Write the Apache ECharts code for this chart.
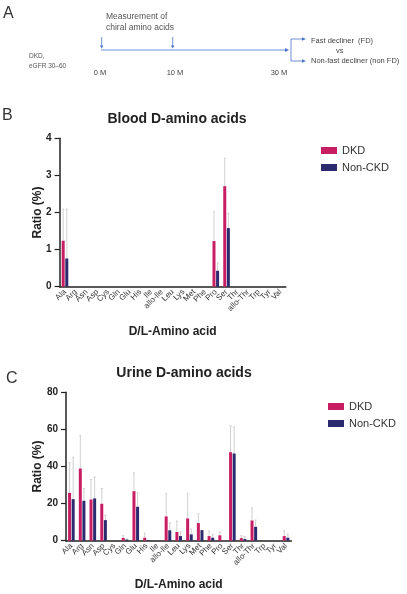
<!DOCTYPE html>
<html>
<head>
<meta charset="utf-8">
<script src="https://cdn.jsdelivr.net/npm/echarts@6/dist/echarts.min.js"></script>
<style>
html,body{margin:0;padding:0;background:#fff;}
#chart{width:407px;height:594px;}
</style>
</head>
<body>
<div id="chart"></div>
<script>
const categories = ['Ala','Arg','Asn','Asp','Cys','Gln','Glu','His','Ile','allo-Ile','Leu','Lys','Met','Phe','Pro','Ser','Thr','allo-Thr','Trp','Tyr','Val'];

const bloodDKD      = [1.24,0,0,0,0,0,0,0,0,0,0,0,0,0,1.23,2.71,0,0,0,0,0];
const bloodDKDUpper = [2.09,null,null,null,null,null,null,null,null,null,null,null,null,null,2.02,3.46,null,null,null,null,null];
const bloodNon      = [0.76,0,0,0,0,0,0,0,0,0,0,0,0,0,0.43,1.58,0,0,0,0,0];
const bloodNonUpper = [2.09,null,null,null,null,null,null,null,null,null,null,null,null,null,0.64,1.98,null,null,null,null,null];

const urineDKD      = [25.8,38.9,22.2,19.9,0,1.5,26.7,1.6,0,13.1,4.7,12.0,9.5,2.5,2.9,47.7,1.4,10.9,0,0,2.5];
const urineDKDUpper = [42.1,56.8,33.0,28.1,null,2.8,36.6,4.1,null,25.4,10.6,25.4,14.5,5.2,4.7,62.0,2.7,17.6,null,null,5.4];
const urineNon      = [22.4,21.5,22.8,11.1,0,0.6,18.3,0.4,0,5.6,2.5,3.4,5.7,1.6,0,47.0,0.9,7.5,0,0,1.6];
const urineNonUpper = [45.0,28.1,34.4,13.8,null,1.0,25.8,null,null,9.7,4.8,6.3,null,3.4,null,61.3,2.2,11.1,null,null,3.6];

const bloodTicks = [0,1,2,3,4];
const urineTicks = [0,20,40,60,80];

const C_DKD = '#c91d63';
const C_NON = '#2b2a6e';
const AXIS = '#222';
const BAR_W = 3;
const OFF = 1.8;

function errData(vals, ups){
  const out = [];
  vals.forEach((v,i)=>{ if(ups[i]!=null) out.push([i, v, ups[i]]); });
  return out;
}
function errRender(offset){
  return function(params, api){
    const i = api.value(0);
    const p0 = api.coord([i, api.value(1)]);
    const p1 = api.coord([i, api.value(2)]);
    const x = p0[0] + offset;
    const st = {stroke:'#c4c4c4', lineWidth:0.8};
    return {type:'group', children:[
      {type:'line', shape:{x1:x,y1:p0[1],x2:x,y2:p1[1]}, style:st},
      {type:'line', shape:{x1:x-1,y1:p1[1],x2:x+1,y2:p1[1]}, style:st}
    ]};
  };
}

function xAxisCfg(gridIndex, gap){
  return {
    type:'category', gridIndex, data:categories,
    boundaryGap:true,
    axisLine:{lineStyle:{color:AXIS,width:1.5}},
    axisTick:{alignWithLabel:true,length:3,lineStyle:{color:AXIS}},
    axisLabel:{rotate:45,fontSize:8,color:'#333',margin:4,interval:0,fontFamily:'Liberation Sans'},
    name:'D/L-Amino acid', nameLocation:'middle', nameGap:gap, nameMoveOverlap:false,
    nameTextStyle:{fontSize:12,fontWeight:'bold',color:'#222',fontFamily:'Liberation Sans'}
  };
}
function yAxisCfg(gridIndex, ticks, gap){
  return {
    type:'value', gridIndex, min:ticks[0], max:ticks[ticks.length-1], interval:ticks[1]-ticks[0],
    axisLine:{show:true,lineStyle:{color:AXIS,width:1.5}},
    axisTick:{show:true,length:5,lineStyle:{color:AXIS,width:1.2}},
    axisLabel:{fontSize:10,fontWeight:'bold',color:'#222',margin:8,fontFamily:'Liberation Sans'},
    splitLine:{show:false},
    name:'Ratio (%)', nameLocation:'middle', nameGap:gap, nameRotate:90, nameMoveOverlap:false,
    nameTextStyle:{fontSize:12,fontWeight:'bold',color:'#222',fontFamily:'Liberation Sans'}
  };
}

const blue = '#4a74c9';
const txt = '#444';
const graphics = [
  {type:'text', left:3, top:6, style:{text:'A', fontSize:16, fill:'#333', fontFamily:'Liberation Sans'}},
  {type:'text', x:106, y:17, style:{text:'Measurement of', fontSize:8.5, fill:'#555', verticalAlign:'middle', fontFamily:'Liberation Sans'}},
  {type:'text', x:106, y:28, style:{text:'chiral amino acids', fontSize:8.5, fill:'#555', verticalAlign:'middle', fontFamily:'Liberation Sans'}},
  {type:'text', x:29, y:56, style:{text:'DKD,', fontSize:6.5, fill:'#555', verticalAlign:'middle', fontFamily:'Liberation Sans'}},
  {type:'text', x:29, y:66, style:{text:'eGFR 30\u201360', fontSize:6.5, fill:'#555', verticalAlign:'middle', fontFamily:'Liberation Sans'}},
  {type:'line', shape:{x1:101,y1:50,x2:287,y2:50}, style:{stroke:blue,lineWidth:0.8}},
  {type:'polygon', shape:{points:[[289,50],[285,48],[285,52]]}, style:{fill:blue}},
  {type:'line', shape:{x1:101.7,y1:37,x2:101.7,y2:46}, style:{stroke:blue,lineWidth:0.8}},
  {type:'polygon', shape:{points:[[101.7,48.5],[100,45.5],[103.4,45.5]]}, style:{fill:blue}},
  {type:'line', shape:{x1:172.7,y1:37,x2:172.7,y2:46}, style:{stroke:blue,lineWidth:0.8}},
  {type:'polygon', shape:{points:[[172.7,48.5],[171,45.5],[174.4,45.5]]}, style:{fill:blue}},
  {type:'line', shape:{x1:291,y1:39,x2:291,y2:61}, style:{stroke:blue,lineWidth:0.8}},
  {type:'line', shape:{x1:291,y1:39,x2:303,y2:39}, style:{stroke:blue,lineWidth:0.8}},
  {type:'polygon', shape:{points:[[306,39],[302,37.3],[302,40.7]]}, style:{fill:blue}},
  {type:'line', shape:{x1:291,y1:61,x2:303,y2:61}, style:{stroke:blue,lineWidth:0.8}},
  {type:'polygon', shape:{points:[[306,61],[302,59.3],[302,62.7]]}, style:{fill:blue}},
  {type:'text', x:311, y:41, style:{text:'Fast decliner  (FD)', fontSize:7.5, fill:txt, verticalAlign:'middle', fontFamily:'Liberation Sans'}},
  {type:'text', x:336, y:50.5, style:{text:'vs', fontSize:7.5, fill:txt, verticalAlign:'middle', fontFamily:'Liberation Sans'}},
  {type:'text', x:311, y:61, style:{text:'Non-fast decliner (non FD)', fontSize:7.5, fill:txt, verticalAlign:'middle', fontFamily:'Liberation Sans'}},
  {type:'text', x:100, y:73, style:{text:'0 M', fontSize:7.5, fill:txt, align:'center', verticalAlign:'middle', fontFamily:'Liberation Sans'}},
  {type:'text', x:175, y:73, style:{text:'10 M', fontSize:7.5, fill:txt, align:'center', verticalAlign:'middle', fontFamily:'Liberation Sans'}},
  {type:'text', x:279, y:73, style:{text:'30 M', fontSize:7.5, fill:txt, align:'center', verticalAlign:'middle', fontFamily:'Liberation Sans'}},
  {type:'text', left:2, top:108, style:{text:'B', fontSize:16, fill:'#333', fontFamily:'Liberation Sans'}},
  {type:'text', left:6, top:371, style:{text:'C', fontSize:16, fill:'#333', fontFamily:'Liberation Sans'}}
];

const option = {
  animation:false,
  backgroundColor:'#fff',
  textStyle:{fontFamily:'Liberation Sans'},
  title:[
    {text:'Blood D-amino acids', left:172, top:107, textAlign:'center', textStyle:{fontSize:14,fontWeight:'bold',color:'#222',fontFamily:'Liberation Sans'}},
    {text:'Urine D-amino acids', left:179, top:361, textAlign:'center', textStyle:{fontSize:14,fontWeight:'bold',color:'#222',fontFamily:'Liberation Sans'}}
  ],
  legend:[
    {orient:'vertical', left:316, top:140, itemWidth:16, itemHeight:7, itemGap:6, icon:'rect',
     data:['DKD','Non-CKD'], textStyle:{fontSize:11,color:'#333',fontFamily:'Liberation Sans'}},
    {orient:'vertical', left:323, top:396, itemWidth:16, itemHeight:7, itemGap:6, icon:'rect',
     data:['DKD','Non-CKD'], textStyle:{fontSize:11,color:'#333',fontFamily:'Liberation Sans'}}
  ],
  grid:[
    {left:59.6, right:121.2, top:138.3, bottom:307.3, containLabel:false},
    {left:66, right:115.6, top:392.3, bottom:53.3, containLabel:false}
  ],
  xAxis:[xAxisCfg(0, 39), xAxisCfg(1, 38)],
  yAxis:[yAxisCfg(0, bloodTicks, 16), yAxisCfg(1, urineTicks, 22)],
  graphic:graphics,
  series:[
    {name:'DKD', type:'bar', xAxisIndex:0, yAxisIndex:0, data:bloodDKD, barWidth:BAR_W, barGap:'20%', itemStyle:{color:C_DKD}},
    {name:'Non-CKD', type:'bar', xAxisIndex:0, yAxisIndex:0, data:bloodNon, barWidth:BAR_W, barGap:'20%', itemStyle:{color:C_NON}},
    {name:'DKD', type:'bar', xAxisIndex:1, yAxisIndex:1, data:urineDKD, barWidth:BAR_W, barGap:'20%', itemStyle:{color:C_DKD}},
    {name:'Non-CKD', type:'bar', xAxisIndex:1, yAxisIndex:1, data:urineNon, barWidth:BAR_W, barGap:'20%', itemStyle:{color:C_NON}},
    {name:'DKD', type:'custom', xAxisIndex:0, yAxisIndex:0, renderItem:errRender(-OFF), data:errData(bloodDKD,bloodDKDUpper), encode:{x:0,y:[1,2]}, z:1, silent:true},
    {name:'Non-CKD', type:'custom', xAxisIndex:0, yAxisIndex:0, renderItem:errRender(OFF), data:errData(bloodNon,bloodNonUpper), encode:{x:0,y:[1,2]}, z:1, silent:true},
    {name:'DKD', type:'custom', xAxisIndex:1, yAxisIndex:1, renderItem:errRender(-OFF), data:errData(urineDKD,urineDKDUpper), encode:{x:0,y:[1,2]}, z:1, silent:true},
    {name:'Non-CKD', type:'custom', xAxisIndex:1, yAxisIndex:1, renderItem:errRender(OFF), data:errData(urineNon,urineNonUpper), encode:{x:0,y:[1,2]}, z:1, silent:true}
  ]
};

const chart = echarts.init(document.getElementById('chart'), null, {renderer:'canvas'});
chart.setOption(option);
</script>
</body>
</html>
